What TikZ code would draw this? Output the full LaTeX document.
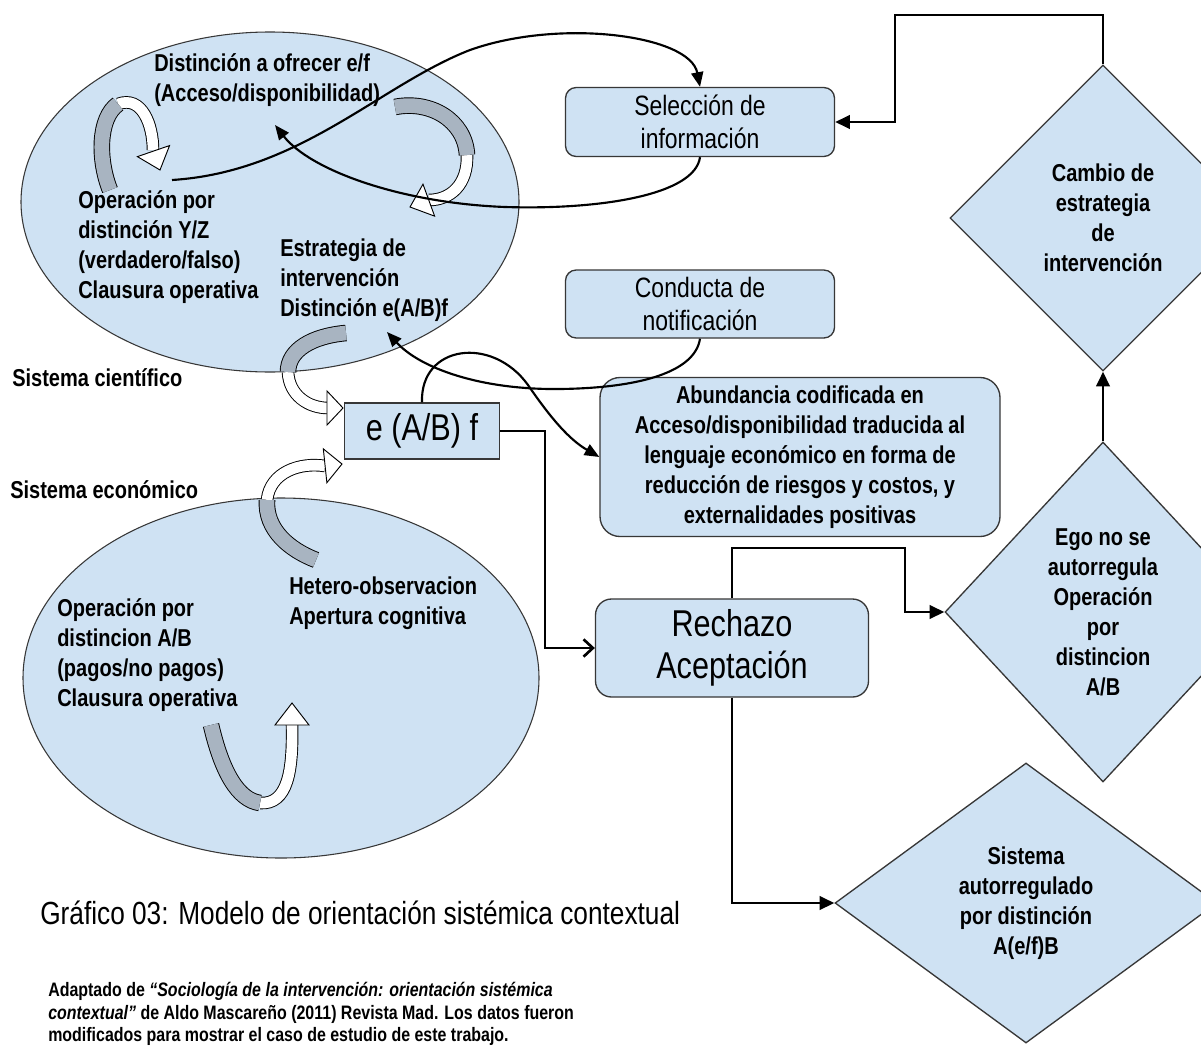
\documentclass[tikz,border=0pt]{standalone}
\usepackage{fontspec}
\setmainfont{Liberation Sans}[FakeStretch=0.82]
\usepackage{tikz}
\usetikzlibrary{arrows.meta, positioning, shapes.geometric}
\definecolor{boxblue}{RGB}{207,226,243}
\definecolor{bandgray}{RGB}{168,180,193}
\definecolor{edgegray}{RGB}{55,55,55}

\newcommand{\lblfont}{\fontsize{18.3}{22.5}\selectfont\bfseries}
\newcommand{\boxfont}{\fontsize{21}{25}\selectfont}
\newcommand{\bigfont}{\fontsize{28}{31.5}\selectfont}
\newcommand{\titlefont}{\fontsize{24}{28}\selectfont}
\newcommand{\capfont}{\fontsize{14.6}{17}\selectfont\bfseries}

\begin{document}
\begin{tikzpicture}[x=0.75pt, y=-0.75pt,
	box/.style={draw=edgegray, line width=1pt, fill=boxblue, rounded corners=8pt, align=center, inner sep=0pt},
	choice/.style={diamond, draw=edgegray, line width=1pt, fill=boxblue, align=center, inner sep=0pt, font=\lblfont},
	lbl/.style={align=left, inner sep=0pt, font=\lblfont},
	flow/.style={line width=2pt, -{Triangle[length=11pt, width=10pt]}},
	curve/.style={line width=1.6pt, -{Triangle[length=11pt, width=9pt]}},
	grayband/.style={draw=black, line width=0.7pt, double=bandgray, double distance=11pt},
	whiteband/.style={draw=black, line width=0.7pt, double=white, double distance=8pt},
	bandtip/.style={draw=black, line width=0.7pt, fill=white, line join=miter}
]

\def \px{0.75pt}

\newcommand{\bandhead}[3]{\draw[bandtip, shift={(#1)}, rotate=#2] (0,0) -- (-#3,17) -- (-#3,-17) -- cycle;}

\useasboundingbox (0,0) rectangle (1201,1056);
\clip (0,0) rectangle (1201,1056);
\fill[white] (0,0) rectangle (1201,1056);

% the two systems
\draw[draw=edgegray, line width=0.8pt, fill=boxblue] (270,202) ellipse [x radius=249, y radius=170];
\draw[draw=edgegray, line width=0.8pt, fill=boxblue] (281,678) ellipse [x radius=258, y radius=180];

% boxes
\node[box, minimum width=269*\px, minimum height=69*\px, font=\boxfont] (sel) at (700,122) {Selección de\\información};
\node[box, minimum width=269*\px, minimum height=68*\px, font=\boxfont] (cond) at (700,304) {Conducta de\\notificación};
\node[box, sharp corners, minimum width=155*\px, minimum height=56*\px, font=\bigfont] (eab) at (422,431) {e (A/B) f};
\node[box, rounded corners=15pt, minimum width=400*\px, minimum height=159*\px, font=\lblfont] (abund) at (800,457) {Abundancia codificada en\\Acceso/disponibilidad traducida al\\lenguaje económico en forma de\\reducción de riesgos y costos, y\\externalidades positivas};
\node[box, rounded corners=12pt, minimum width=273*\px, minimum height=98*\px, font=\bigfont] (rech) at (732,648) {Rechazo\\Aceptación};

% decisions
\node[choice, minimum width=306*\px, minimum height=306*\px] (cambio) at (1103,218) {Cambio de\\estrategia\\de\\intervención};
\node[choice, minimum width=316*\px, minimum height=340*\px] (ego) at (1103,612) {Ego no se\\autorregula\\Operación\\por\\distincion\\A/B};
\node[choice, minimum width=382*\px, minimum height=280*\px] (sis) at (1026,903) {Sistema\\autorregulado\\por distinción\\A(e/f)B};

% ribbon arrows
\draw[whiteband] (118,104) .. controls (142,95) and (153,125) .. (153,150);
\draw[grayband] (110,190) .. controls (98,160) and (98,118) .. (118,104);
\bandhead{160,170}{-71}{20}

\draw[whiteband] (467,155) .. controls (468,185) and (450,200) .. (429,200);
\draw[grayband] (395,107) .. controls (430,100) and (465,120) .. (467,155);
\bandhead{410,207}{200}{20}

\draw[whiteband] (288,372) .. controls (289,395) and (308,408) .. (328,408);
\draw[grayband] (346,333) .. controls (312,336) and (288,350) .. (288,372);
\bandhead{343,408}{0}{16}

\draw[whiteband] (267,500) .. controls (270,472) and (300,462) .. (325,466);
\draw[grayband] (316,560) .. controls (290,550) and (265,530) .. (267,500);
\bandhead{342,464}{6}{17}

\draw[whiteband] (260,803) .. controls (288,805) and (293,770) .. (292,725);
\draw[grayband] (211,725) .. controls (222,772) and (238,800) .. (260,803);
\bandhead{292,703}{90}{22}

% labels
\node[lbl, anchor=west] (distof) at (154,80) {Distinción a ofrecer e/f\\(Acceso/disponibilidad)};
\node[lbl, anchor=west] (opyz) at (78,247) {Operación por\\distinción Y/Z\\(verdadero/falso)\\Clausura operativa};
\node[lbl, anchor=west] (estr) at (280,280) {Estrategia de\\intervención\\Distinción e(A/B)f};
\node[lbl, anchor=west] (hetero) at (289,603) {Hetero-observacion\\Apertura cognitiva};
\node[lbl, anchor=west] (opab) at (57,655) {Operación por\\distincion A/B\\(pagos/no pagos)\\Clausura operativa};
\node[lbl, anchor=west] (cient) at (12,378) {Sistema científico};
\node[lbl, anchor=west] (econ) at (10,490) {Sistema económico};

\node[anchor=west, inner sep=0pt, font=\titlefont] (title) at (40,913) {Gráfico 03: Modelo de orientación sistémica contextual};
\node[anchor=west, inner sep=0pt, align=left, font=\capfont] (source) at (48,1014) {Adaptado de \textit{“Sociología de la intervención: orientación sistémica}\\\textit{contextual”} de Aldo Mascareño (2011) Revista Mad. Los datos fueron\\modificados para mostrar el caso de estudio de este trabajo.};

% curved connectors
\coordinate (opstart) at (172,180);
\draw[curve] (opstart) .. controls (300,172) and (380,85) .. (470,50) .. controls (560,18) and (690,35) .. (sel.north);
\draw[curve] (sel.south) .. controls (695,195) and (600,210) .. (505,207) .. controls (400,203) and (310,170) .. (275,125);
\draw[curve] (cond.south) .. controls (695,372) and (640,388) .. (560,389) .. controls (480,390) and (420,368) .. (387,332);
\draw[curve] (eab.north) .. controls (420,345) and (492,335) .. (528,385) .. controls (552,420) and (570,440) .. (abund.west);

% orthogonal connectors
\coordinate (topturn) at (895,15);
\coordinate (eabturn) at (545,431);
\coordinate (egoturn) at (905,548);
\draw[flow] (cambio.north) |- (topturn) |- (sel.east);
\draw[flow] (ego.north) -- (cambio.south);
\draw[line width=2pt, -{Straight Barb[length=7pt, width=13pt]}] (eab.east) -- (eabturn) |- (rech.west);
\draw[flow] (rech.north) |- (egoturn) |- (ego.west);
\draw[flow] (rech.south) |- (sis.west);

\end{tikzpicture}
\end{document}
